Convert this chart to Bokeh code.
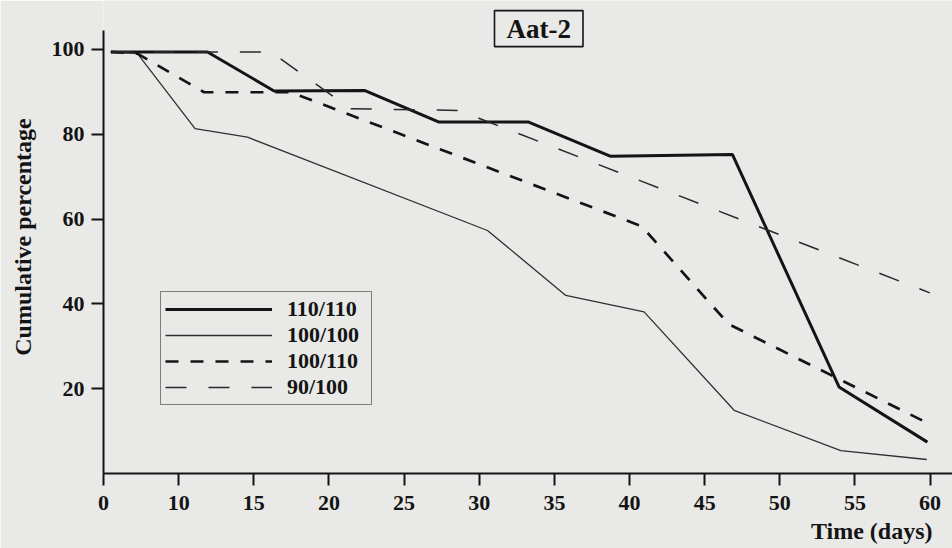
from bokeh.plotting import figure
from bokeh.models import Label, Legend, LegendItem, FixedTicker, Title
from bokeh.embed import file_html
from bokeh.resources import INLINE

# ---- data (x = axis position; the tick at 5 is labelled "0") ----
x_110_110 = [5.49, 11.92, 16.35, 22.40, 27.29, 33.25, 38.75, 46.85, 53.94, 59.82]
y_110_110 = [99.4, 99.4, 90.2, 90.3, 82.9, 82.9, 74.8, 75.2, 20.4, 7.4]

x_100_100 = [5.49, 7.26, 11.09, 14.58, 30.55, 35.76, 40.97, 46.96, 54.06, 59.78]
y_100_100 = [99.4, 99.0, 81.3, 79.3, 57.3, 42.0, 38.1, 14.9, 5.4, 3.3]

x_100_110 = [5.49, 7.26, 11.69, 17.46, 40.81, 46.60, 59.71]
y_100_110 = [99.4, 99.0, 89.9, 89.9, 58.3, 35.2, 12.1]

x_90_100 = [5.49, 16.13, 21.45, 28.64, 59.98]
y_90_100 = [99.4, 99.4, 86.0, 85.6, 42.6]

series_names = ["110/110", "100/100", "100/110", "90/100"]

x_ticks = [5, 10, 15, 20, 25, 30, 35, 40, 45, 50, 55, 60]
x_tick_labels = ["0", "10", "15", "20", "25", "30", "35", "40", "45", "50", "55", "60"]
y_ticks = [20, 40, 60, 80, 100]

title_text = "Aat-2"
x_title = "Time (days)"
y_title = "Cumulative percentage"

BG = "#e9e9e7"
INK = "#141414"
FONT = "Liberation Serif"

p = figure(width=952, height=548, output_backend="svg", toolbar_location=None,
           x_range=(5, 61.49), y_range=(0, 111.53),
           min_border_left=103, min_border_right=0, min_border_top=0, min_border_bottom=75,
           background_fill_color=BG, border_fill_color=BG, outline_line_color=None)

p.xgrid.visible = False
p.ygrid.visible = False

p.xaxis.ticker = FixedTicker(ticks=x_ticks)
p.xaxis.major_label_overrides = {t: l for t, l in zip(x_ticks, x_tick_labels)}
p.yaxis.ticker = FixedTicker(ticks=y_ticks)
p.yaxis.bounds = (0, 104.5)

for ax in (p.xaxis[0], p.yaxis[0]):
    ax.axis_line_width = 2
    ax.axis_line_color = INK
    ax.major_tick_line_width = 2
    ax.major_tick_line_color = INK
    ax.major_tick_out = 12
    ax.major_tick_in = 0
    ax.minor_tick_line_color = None
    ax.major_label_text_font = FONT
    ax.major_label_text_font_style = "bold"
    ax.major_label_text_font_size = "22px"
    ax.major_label_text_color = INK

p.xaxis.major_label_standoff = 10
p.yaxis.major_label_standoff = 7
p.yaxis.axis_label = y_title
p.yaxis.axis_label_text_font = FONT
p.yaxis.axis_label_text_font_style = "bold"
p.yaxis.axis_label_text_font_size = "24px"
p.yaxis.axis_label_text_color = INK
p.yaxis.axis_label_standoff = 13

r1 = p.line(x_110_110, y_110_110, line_color=INK, line_width=3)
r2 = p.line(x_100_100, y_100_100, line_color="#303030", line_width=1.3)
r3 = p.line(x_100_110, y_100_110, line_color=INK, line_width=2.7, line_dash="13 12")
r4 = p.line(x_90_100, y_90_100, line_color="#2a2a2a", line_width=1.5, line_dash="21 22")

legend = Legend(items=[LegendItem(label=n, renderers=[r]) for n, r in zip(series_names, [r1, r2, r3, r4])],
                location=(57, 68), padding=4, spacing=0, glyph_width=107, glyph_height=20,
                label_height=20, label_width=80, label_standoff=15,
                label_text_font=FONT, label_text_font_style="bold", label_text_font_size="22px",
                label_text_color=INK,
                border_line_color=INK, border_line_width=1.3,
                background_fill_color=BG, background_fill_alpha=1.0)
p.add_layout(legend)

title = Label(x=33.96, y=104.9, text=title_text, text_align="center", text_baseline="middle",
              text_font=FONT, text_font_style="bold", text_font_size="27px", text_color=INK,
              border_line_color=INK, border_line_width=1.6,
              background_fill_color=BG, background_fill_alpha=1.0, padding=dict(x=12, y=3))
p.add_layout(title)

p.add_layout(Title(text=x_title, align="right", offset=20, standoff=7,
                   text_font=FONT, text_font_style="bold", text_font_size="24px",
                   text_color=INK), "below")

open("out.html", "w").write(file_html(p, INLINE))
